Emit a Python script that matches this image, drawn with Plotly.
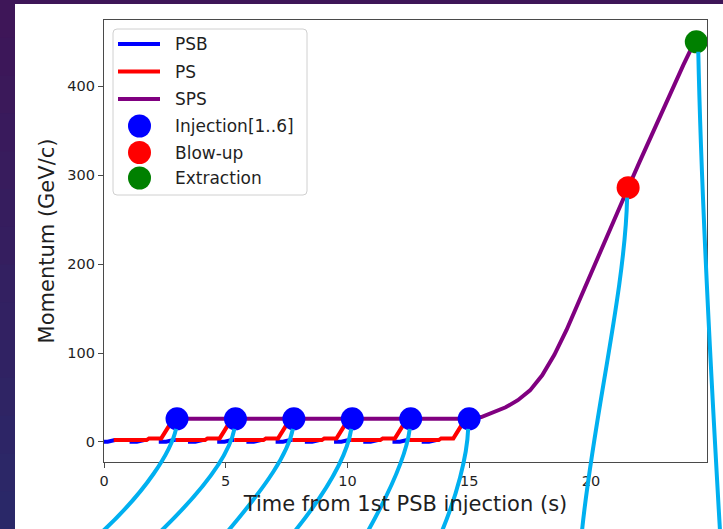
import plotly.graph_objects as go

# ---------------------------------------------------------------------------
# Data: momentum along the injector chain (time in s, momentum in GeV/c)
# ---------------------------------------------------------------------------
psb_time = [0.0, 0.15, 0.45, 0.55, None,
            1.05, 1.35, 1.65, 1.75, None,
            2.25, 2.55, 2.85, 2.95, None,
            3.45, 3.75, 4.05, 4.15, None,
            4.65, 4.95, 5.25, 5.35, None,
            5.85, 6.15, 6.45, 6.55, None,
            7.05, 7.35, 7.65, 7.75, None,
            8.25, 8.55, 8.85, 8.95, None,
            9.45, 9.75, 10.05, 10.15, None,
            10.65, 10.95, 11.25, 11.35, None,
            11.85, 12.15, 12.45, 12.55, None,
            13.05, 13.35, 13.65, 13.75]
psb_p = [0.31, 0.31, 2.14, 2.14, None] * 11 + [0.31, 0.31, 2.14, 2.14]

ps_time = [0.40, 1.75, 1.85, 2.35, 2.85, 3.00, None,
           2.95, 4.15, 4.25, 4.75, 5.25, 5.40, None,
           5.35, 6.55, 6.65, 7.15, 7.65, 7.80, None,
           7.75, 8.95, 9.05, 9.55, 10.05, 10.20, None,
           10.15, 11.35, 11.45, 11.95, 12.45, 12.60, None,
           12.55, 13.75, 13.85, 14.35, 14.85, 15.00]
ps_p = [2.14, 2.14, 4.0, 4.0, 26.0, 26.0, None] * 5 + [2.14, 2.14, 4.0, 4.0, 26.0, 26.0]

sps_time = [3.0, 15.0, 15.5, 16.0, 16.5, 17.0, 17.5, 18.0, 18.5, 19.0, 19.5,
            20.0, 20.5, 21.0, 21.5, 22.0, 22.5, 23.0, 23.5, 23.8, 24.1, 24.33]
sps_p = [26, 26, 28, 33, 39, 47, 58, 75, 98, 126, 158,
         189, 220, 252, 284, 315, 346, 377, 406, 424, 441, 450]

inj_time = [3.0, 5.4, 7.8, 10.2, 12.6, 15.0]
inj_p = [26, 26, 26, 26, 26, 26]
blowup_time = [21.53]
blowup_p = [286]
extr_time = [24.33]
extr_p = [450]

x_ticks = [0, 5, 10, 15, 20]
y_ticks = [0, 100, 200, 300, 400]
x_range = [0, 24.77]
y_range = [-22.5, 474.5]

legend_labels = ["PSB", "PS", "SPS", "Injection[1..6]", "Blow-up", "Extraction"]
legend_colors = ["#0000ff", "#ff0000", "#800080", "#0000ff", "#ff0000", "#008000"]

# ---------------------------------------------------------------------------
# Page geometry
# ---------------------------------------------------------------------------
W, H = 723, 529
ML, MR, MT, MB = 104, 16, 20, 67
PW, PH = W - ML - MR, H - MT - MB

FONT = "DejaVu Sans"
TXT = "#1f1f1f"
AX = "#4a4a4a"
CYAN = "#00b0f0"


def px_x(x):
    return (x - ML) / PW


def px_y(y):
    return (H - MB - y) / PH


def data_px(t, p):
    x = ML + (t - x_range[0]) / (x_range[1] - x_range[0]) * PW
    y = MT + (y_range[1] - p) / (y_range[1] - y_range[0]) * PH
    return x, y


fig = go.Figure()

fig.add_trace(go.Scatter(x=psb_time, y=psb_p, mode="lines", name="PSB",
                         line=dict(color="#0000ff", width=4)))
fig.add_trace(go.Scatter(x=ps_time, y=ps_p, mode="lines", name="PS",
                         line=dict(color="#ff0000", width=4)))
fig.add_trace(go.Scatter(x=sps_time, y=sps_p, mode="lines", name="SPS",
                         line=dict(color="#800080", width=4)))
fig.add_trace(go.Scatter(x=inj_time, y=inj_p, mode="markers", name="Injection[1..6]",
                         marker=dict(color="#0000ff", size=23, line=dict(width=0))))
fig.add_trace(go.Scatter(x=blowup_time, y=blowup_p, mode="markers", name="Blow-up",
                         marker=dict(color="#ff0000", size=23, line=dict(width=0))))
fig.add_trace(go.Scatter(x=extr_time, y=extr_p, mode="markers", name="Extraction",
                         marker=dict(color="#008000", size=23, line=dict(width=0))))

shapes = []

# slide background: purple frame with a white panel
n_bands = 14
top_rgb = (62, 22, 88)
bot_rgb = (42, 40, 104)
for i in range(n_bands):
    f = i / (n_bands - 1)
    c = tuple(round(a + (b - a) * f) for a, b in zip(top_rgb, bot_rgb))
    y0 = H * i / n_bands
    y1 = H * (i + 1) / n_bands + 1
    shapes.append(dict(type="rect", xref="paper", yref="paper", layer="below",
                       x0=px_x(0), x1=px_x(W), y0=px_y(y1), y1=px_y(y0),
                       fillcolor="rgb(%d,%d,%d)" % c, line=dict(width=0)))
shapes.append(dict(type="rect", xref="paper", yref="paper", layer="below",
                   x0=px_x(15), x1=px_x(W + 2), y0=px_y(H + 2), y1=px_y(4),
                   fillcolor="white", line=dict(width=0)))

# legend box with rounded corners
lx0, ly0, lx1, ly1, r = 113, 29, 307, 195, 4
box = ("M {a},{b} L {c},{b} Q {d},{b} {d},{e} L {d},{f} Q {d},{g} {c},{g} "
       "L {a},{g} Q {h},{g} {h},{f} L {h},{e} Q {h},{b} {a},{b} Z").format(
    a=px_x(lx0 + r), b=px_y(ly0), c=px_x(lx1 - r), d=px_x(lx1), e=px_y(ly0 + r),
    f=px_y(ly1 - r), g=px_y(ly1), h=px_x(lx0))
shapes.append(dict(type="path", xref="paper", yref="paper", path=box, layer="above",
                   fillcolor="white", line=dict(color="#d0d0d0", width=1)))

row_y = [44, 71.5, 99, 126, 152.5, 178]
annotations = []
for i, (lab, col) in enumerate(zip(legend_labels, legend_colors)):
    yy = row_y[i]
    if i < 3:
        shapes.append(dict(type="line", xref="paper", yref="paper", layer="above",
                           x0=px_x(118), x1=px_x(160), y0=px_y(yy), y1=px_y(yy),
                           line=dict(color=col, width=4)))
    else:
        shapes.append(dict(type="circle", xref="paper", yref="paper", layer="above",
                           xsizemode="pixel", ysizemode="pixel",
                           xanchor=px_x(139.5), yanchor=px_y(yy),
                           x0=-11.5, x1=11.5, y0=-11.5, y1=11.5,
                           fillcolor=col, line=dict(width=0)))
    annotations.append(dict(text=lab, xref="paper", yref="paper",
                            x=px_x(173), y=px_y(yy), xanchor="left", yanchor="middle",
                            showarrow=False, font=dict(family=FONT, size=17, color=TXT)))

# call-out connectors from the marked points down to the slide edge
marks = list(zip(inj_time, inj_p)) + list(zip(blowup_time, blowup_p)) + list(zip(extr_time, extr_p))
ends = [(103, 531), (161, 531), (228, 531), (295, 531), (368, 531), (442, 531),
        (582, 531), (720, 531)]
bends = [((-5, 23), (-30, 62)), ((-5, 25), (-28, 58)), ((-5, 25), (-26, 56)),
         ((-4, 25), (-21, 58)), ((-3, 25), (-20, 63)), ((-1, 28), (-12, 68)),
         ((-2, 92), (-34, 222)), ((3, 149), (13, 329))]
for (t, p), (ex, ey), (b1, b2) in zip(marks, ends, bends):
    cx, cy = data_px(t, p)
    sx, sy = cx - 1 + (3 if t > 24 else 0), cy + 10
    path = "M {},{} C {},{} {},{} {},{}".format(
        px_x(sx), px_y(sy), px_x(sx + b1[0]), px_y(sy + b1[1]),
        px_x(sx + b2[0]), px_y(sy + b2[1]), px_x(ex), px_y(ey))
    shapes.append(dict(type="path", xref="paper", yref="paper", path=path, layer="above",
                       line=dict(color=CYAN, width=4)))

axis_common = dict(showgrid=False, zeroline=False, showline=True, mirror=True,
                   linecolor=AX, linewidth=1.3, ticks="outside", ticklen=5,
                   tickwidth=1.2, tickcolor=AX,
                   tickfont=dict(family=FONT, size=14.5, color=TXT))

fig.update_layout(
    width=W, height=H,
    margin=dict(l=ML, r=MR, t=MT, b=MB, pad=0),
    paper_bgcolor="#3a1a60",
    plot_bgcolor="white",
    showlegend=False,
    font=dict(family=FONT, color=TXT),
    xaxis=dict(range=x_range, tickvals=x_ticks, **axis_common,
               title=dict(text="Time from 1st PSB injection (s)",
                          font=dict(family=FONT, size=21, color=TXT), standoff=8)),
    yaxis=dict(range=y_range, tickvals=y_ticks, **axis_common,
               title=dict(text="Momentum (GeV/c)",
                          font=dict(family=FONT, size=21, color=TXT), standoff=6)),
    shapes=shapes,
    annotations=annotations,
)

fig.write_html("out.html")
